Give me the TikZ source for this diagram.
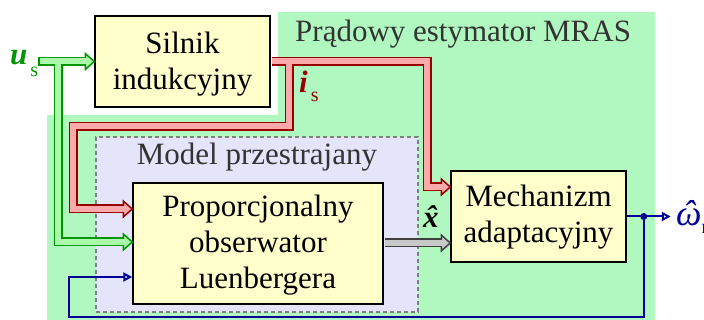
\documentclass[tikz,border=0pt]{standalone}
\usepackage{fontspec}
\setmainfont{Liberation Serif}
\usetikzlibrary{arrows.meta,calc}

\definecolor{bgGreen}{RGB}{176,248,192}
\definecolor{boxYellow}{RGB}{255,255,204}
\definecolor{modelBlue}{RGB}{228,228,250}
\definecolor{gBorder}{RGB}{0,150,0}
\definecolor{gFill}{RGB}{170,250,170}
\definecolor{rBorder}{RGB}{150,0,0}
\definecolor{rFill}{RGB}{255,170,170}
\definecolor{xBorder}{RGB}{64,64,64}
\definecolor{xFill}{RGB}{200,200,200}
\definecolor{wBlue}{RGB}{0,0,150}
\definecolor{titleGray}{RGB}{51,51,51}

% head of a wide signal band, pointing right; #1 tip, #2 fill, #3 border
\newcommand\bandhead[3]{%
  \filldraw[fill=#2, draw=#3, line width=1.5pt, line join=miter]
    (#1) -- ++(-9,-8) -- ++(0,16) -- cycle;}

\tikzset{
  txt/.style={font={\fontsize{31}{36}\selectfont}, inner sep=0pt},
  blockbox/.style={txt, draw=black, line width=1.5pt, fill=boxYellow, align=center, text depth=6.7pt},
  bandout/.style={line width=9pt, line join=miter},
  bandin/.style={line width=6pt, line join=miter},
  feedback/.style={wBlue, line width=2pt, line join=miter,
    -{Triangle[open, length=9pt, width=9pt]}}
}

\begin{document}
\begin{tikzpicture}[x=1pt, y=-1pt]
\useasboundingbox (0,0) rectangle (704,320);

% estimator area
\fill[bgGreen] (47,320) -- (47,115) -- (278,115) -- (278,12) -- (655,12) -- (655,320) -- cycle;
\node[txt, anchor=base west, text=titleGray] (title) at (295,42) {Prądowy estymator MRAS};

% adjustable model
\node[draw=gray, dash pattern=on 4pt off 3pt, line width=1.5pt, fill=modelBlue,
      minimum width=322pt, minimum height=175pt, inner sep=0pt] (mdl) at (257,224.5) {};
\node[txt, anchor=base, text=titleGray] (mdltxt) at ([yshift=-28pt]mdl.north) {Model przestrajany};

% blocks (text height measured from the baseline of the last line)
\node[blockbox, minimum width=175pt, minimum height=91pt,
      text height=63.7pt] (sil) at (182.5,61.5) {Silnik\\indukcyjny};
\node[blockbox, minimum width=250pt, minimum height=121pt,
      text height=97.7pt] (obs) at (258,243.5) {Proporcjonalny\\obserwator\\Luenbergera};
\node[blockbox, minimum width=175pt, minimum height=91pt,
      text height=59.7pt] (mech) at (538.5,216.5) {Mechanizm\\adaptacyjny};

% band end points
\coordinate (uin) at (38,61.5);
\coordinate (gsplit) at (58,61.5);
\coordinate (rsplit) at (289,61.5);
\coordinate (rbend) at (73,126.5);
\coordinate (gtipA) at (sil.west);
\coordinate (gtipB) at ([yshift=1.5pt]obs.west);
\coordinate (rtipA) at ([yshift=29.5pt]mech.west);
\coordinate (rtipB) at ([yshift=34.5pt]obs.west);
\coordinate (xtip) at ([yshift=-26.5pt]mech.west);
\coordinate (btip) at ([yshift=-33.5pt]obs.west);

% stator voltage u_s
\draw[gBorder, bandout] (uin) -- ([xshift=-9pt]gtipA);
\draw[gBorder, bandout] (gsplit) |- ([xshift=-9pt]gtipB);
\bandhead{gtipA}{gFill}{gBorder}
\bandhead{gtipB}{gFill}{gBorder}
\draw[gFill, bandin] ([xshift=1.5pt]uin) -- ([xshift=-7.5pt]gtipA);
\draw[gFill, bandin] (gsplit) |- ([xshift=-7.5pt]gtipB);

% stator current i_s
\draw[rBorder, bandout] ([xshift=0.75pt]sil.east) -| ([xshift=-23pt]rtipA) -- ([xshift=-9pt]rtipA);
\draw[rBorder, bandout] (rsplit) |- (rbend) |- ([xshift=-9pt]rtipB);
\bandhead{rtipA}{rFill}{rBorder}
\bandhead{rtipB}{rFill}{rBorder}
\draw[rFill, bandin] ([xshift=0.75pt]sil.east) -| ([xshift=-23pt]rtipA) -- ([xshift=-7.5pt]rtipA);
\draw[rFill, bandin] (rsplit) |- (rbend) |- ([xshift=-7.5pt]rtipB);

% estimated state x
\draw[xBorder, bandout] ([xshift=0.75pt]obs.east |- xtip) -- ([xshift=-9pt]xtip);
\bandhead{xtip}{xFill}{xBorder}
\draw[xFill, bandin] ([xshift=0.75pt]obs.east |- xtip) -- ([xshift=-7.5pt]xtip);

% estimated speed and its feedback
\coordinate (dot) at ([xshift=17pt]mech.east);
\coordinate (wout) at ([xshift=44pt]mech.east);
\coordinate (fbk) at (69,317);
\draw[feedback] (mech.east) -- (wout);
\draw[feedback] (dot) |- (fbk) |- (btip);
\fill[wBlue] (dot) circle (3.5pt);

% signal labels
\node[txt, anchor=base west, text=gBorder] (ulab) at (10,65)
  {{\bfseries\itshape u}\kern3pt\raisebox{-12pt}{\fontsize{20}{20}\selectfont s}};
\node[txt, anchor=base west, text=rBorder] (ilab) at (299,93)
  {{\bfseries\itshape i}\kern3pt\raisebox{-9pt}{\fontsize{20}{20}\selectfont s}};
\node[txt, anchor=base west] (xlab) at (423,228) {\bfseries\itshape\accent"02C6 x};
\node[txt, anchor=base west, text=wBlue] (wlab) at (676,226)
  {{\fontsize{36}{40}\selectfont\itshape\accent"02C6 ω}\raisebox{-8pt}{\fontsize{20}{20}\selectfont r}};
\end{tikzpicture}
\end{document}
